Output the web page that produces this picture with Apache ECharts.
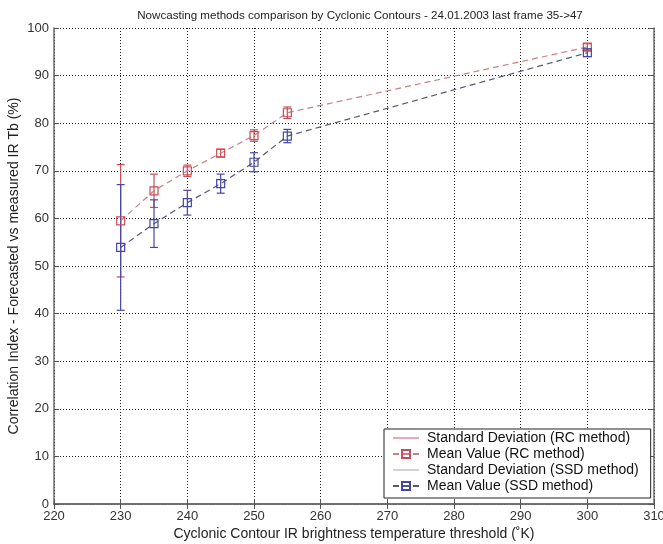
<!DOCTYPE html>
<html>
<head>
<meta charset="utf-8">
<script src="https://cdn.jsdelivr.net/npm/echarts@6/dist/echarts.min.js"></script>
<style>
html,body{margin:0;padding:0;background:#fff;}
#c{width:663px;height:544px;}
</style>
</head>
<body>
<div id="c"></div>
<script>
const thresholds = [230, 235, 240, 245, 250, 255, 300];
const rcMean = [59.5, 65.8, 70.0, 73.7, 77.4, 82.2, 96.0];
const rcStd = [11.8, 3.5, 1.2, 0.8, 1.2, 1.2, 0.7];
const ssdMean = [53.9, 58.9, 63.3, 67.3, 71.8, 77.3, 94.8];
const ssdStd = [13.2, 5.0, 2.6, 2.0, 2.0, 1.4, 0.8];

const titleText = 'Nowcasting methods comparison by Cyclonic Contours - 24.01.2003 last frame 35->47';
const xName = 'Cyclonic Contour IR brightness temperature threshold (\u02DAK)';
const yName = 'Correlation Index - Forecasted vs measured IR Tb (%)';
const legendNames = ['Standard Deviation (RC method)', 'Mean Value (RC method)', 'Standard Deviation (SSD method)', 'Mean Value (SSD method)'];

const FONT = 'Liberation Sans, Arial, sans-serif';
const RC_COLOR = '#cc4c55';
const RC_LINE = '#c98088';
const SSD_COLOR = '#4646a6';
const SSD_LINE = '#55557a';

function errData(mean, sd) {
  return thresholds.map((t, i) => [t, mean[i] - sd[i], mean[i] + sd[i]]);
}
function lineData(mean) {
  return thresholds.map((t, i) => [t, mean[i]]);
}
function errRender(color) {
  return function (params, api) {
    const x = api.value(0);
    const lo = api.coord([x, api.value(1)]);
    const hi = api.coord([x, api.value(2)]);
    const w = 4;
    const style = { stroke: color, lineWidth: 1.2 };
    return {
      type: 'group',
      children: [
        { type: 'line', shape: { x1: lo[0], y1: lo[1], x2: hi[0], y2: hi[1] }, style: style },
        { type: 'line', shape: { x1: lo[0] - w, y1: lo[1], x2: lo[0] + w, y2: lo[1] }, style: style },
        { type: 'line', shape: { x1: hi[0] - w, y1: hi[1], x2: hi[0] + w, y2: hi[1] }, style: style }
      ]
    };
  };
}

const axisLineStyle = { color: '#6a6a6a', width: 1.5 };
const chart = echarts.init(document.getElementById('c'));
chart.setOption({
  animation: false,
  backgroundColor: '#fff',
  title: {
    text: titleText, left: 355, top: 5, textAlign: 'center',
    textStyle: { fontFamily: FONT, fontSize: 11.6, fontWeight: 'normal', color: '#222' }
  },
  grid: { left: 54, right: 9, top: 28, bottom: 40, outerBoundsMode: 'none', containLabel: false },
  legend: {
    orient: 'vertical', left: 384, top: 429,
    backgroundColor: '#fff', borderColor: '#222', borderWidth: 1,
    padding: [2, 12, 5, 8], itemGap: 2, itemWidth: 26, itemHeight: 10,
    textStyle: { fontFamily: FONT, fontSize: 14, color: '#111', lineHeight: 14, padding: [0, 0, 0, 3] },
    data: [
      { name: legendNames[0], icon: 'path://M0,0L28,0L28,1L0,1Z', itemStyle: { color: RC_COLOR } },
      { name: legendNames[1] },
      { name: legendNames[2], icon: 'path://M0,0L28,0L28,1L0,1Z', itemStyle: { color: '#9a9ab8' } },
      { name: legendNames[3] }
    ]
  },
  xAxis: [{
    type: 'value', min: 220, max: 310, interval: 10,
    name: xName, nameLocation: 'middle', nameGap: 23, nameMoveOverlap: false,
    nameTextStyle: { fontFamily: FONT, fontSize: 14, color: '#222' },
    axisLine: { lineStyle: axisLineStyle },
    axisTick: { inside: true, length: 5, lineStyle: { color: '#555' } },
    axisLabel: { fontFamily: FONT, fontSize: 13, color: '#333', margin: 6 },
    splitLine: { show: true, lineStyle: { type: [1, 2], color: '#222', width: 1 } }
  }, {
    type: 'value', min: 220, max: 310, interval: 10, position: 'top',
    axisLine: { lineStyle: axisLineStyle },
    axisTick: { inside: true, length: 5, lineStyle: { color: '#555' } },
    axisLabel: { show: false }, splitLine: { show: false }
  }],
  yAxis: [{
    type: 'value', min: 0, max: 100, interval: 10,
    name: yName, nameLocation: 'middle', nameGap: 33, nameMoveOverlap: false,
    nameTextStyle: { fontFamily: FONT, fontSize: 14, color: '#222' },
    axisLine: { show: true, lineStyle: axisLineStyle },
    axisTick: { show: true, inside: true, length: 5, lineStyle: { color: '#555' } },
    axisLabel: { fontFamily: FONT, fontSize: 13, color: '#333', margin: 5 },
    splitLine: { show: true, lineStyle: { type: [1, 2], color: '#222', width: 1 } }
  }, {
    type: 'value', min: 0, max: 100, interval: 10, position: 'right',
    axisLine: { show: true, lineStyle: axisLineStyle },
    axisTick: { show: true, inside: true, length: 5, lineStyle: { color: '#555' } },
    axisLabel: { show: false }, splitLine: { show: false }
  }],
  series: [
    {
      name: legendNames[0], type: 'custom', renderItem: errRender(RC_COLOR),
      data: errData(rcMean, rcStd), encode: { x: 0, y: [1, 2] }, z: 3,
      itemStyle: { color: RC_COLOR }
    },
    {
      name: legendNames[1], type: 'line', data: lineData(rcMean),
      symbol: 'rect', symbolSize: 8, showSymbol: true,
      lineStyle: { color: RC_LINE, width: 1.2, type: [6, 4] },
      itemStyle: { color: 'rgba(255,255,255,0)', borderColor: RC_COLOR, borderWidth: 1.2 },
      z: 4
    },
    {
      name: legendNames[2], type: 'custom', renderItem: errRender(SSD_COLOR),
      data: errData(ssdMean, ssdStd), encode: { x: 0, y: [1, 2] }, z: 3,
      itemStyle: { color: SSD_COLOR }
    },
    {
      name: legendNames[3], type: 'line', data: lineData(ssdMean),
      symbol: 'rect', symbolSize: 8, showSymbol: true,
      lineStyle: { color: SSD_LINE, width: 1.2, type: [6, 4] },
      itemStyle: { color: 'rgba(255,255,255,0)', borderColor: SSD_COLOR, borderWidth: 1.2 },
      z: 4
    }
  ]
});
</script>
</body>
</html>
